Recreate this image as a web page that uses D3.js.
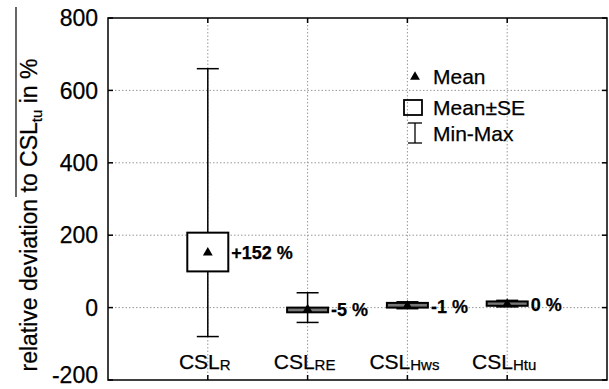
<!DOCTYPE html>
<html><head><meta charset="utf-8">
<script src="https://cdn.jsdelivr.net/npm/d3@7"></script>
<style>body{margin:0;background:#fff}svg{display:block;font-family:"Liberation Sans",Arial,sans-serif}text{fill:#000;stroke:#000;stroke-width:0.25px}</style>
</head><body><svg id="c" width="609" height="389"></svg>
<script>
const categories = ["R","RE","Hws","Htu"];
const minVals  = [-80, -41, -3, 2];
const maxVals  = [660, 41, 16, 20];
const seLow    = [100, -13, 0, 5];
const seHigh   = [207, 0, 13, 17];
const means    = [152, -5, 5, 10];
const labels   = ["+152 %","-5 %","-1 %","0 %"];
const yTicks   = [-200, 0, 200, 400, 600, 800];

const svg = d3.select("#c");
const L=108, R=607, T=18, B=380;
const x = d3.scaleLinear().domain([0,5]).range([L,R]);
const y = d3.scaleLinear().domain([-200,800]).range([B,T]);

// artifact line at left
svg.append("line").attr("x1",16).attr("x2",16).attr("y1",7).attr("y2",197).attr("stroke","#000").attr("stroke-width",1.2);

// grid
const g = svg.append("g");
yTicks.filter(v=>v>-200&&v<800).forEach(v=>{
  g.append("line").attr("x1",L).attr("x2",R).attr("y1",y(v)).attr("y2",y(v))
   .attr("stroke","#999").attr("stroke-dasharray","1.5,2").attr("stroke-width",1);
});
categories.forEach((c,i)=>{
  g.append("line").attr("x1",x(i+1)).attr("x2",x(i+1)).attr("y1",T).attr("y2",B)
   .attr("stroke","#999").attr("stroke-dasharray","1.5,2").attr("stroke-width",1);
});

// frame
svg.append("rect").attr("x",L).attr("y",T).attr("width",R-L).attr("height",B-T)
  .attr("fill","none").attr("stroke","#000").attr("stroke-width",1.5);

// ticks
categories.forEach((c,i)=>{
  const xx=x(i+1);
  svg.append("line").attr("x1",xx).attr("x2",xx).attr("y1",T).attr("y2",T+5).attr("stroke","#000").attr("stroke-width",1.5);
  svg.append("line").attr("x1",xx).attr("x2",xx).attr("y1",B).attr("y2",B-5).attr("stroke","#000").attr("stroke-width",1.5);
});
yTicks.forEach(v=>{
  svg.append("line").attr("x1",L).attr("x2",L+5).attr("y1",y(v)).attr("y2",y(v)).attr("stroke","#000").attr("stroke-width",1.5);
  svg.append("line").attr("x1",R).attr("x2",R-5).attr("y1",y(v)).attr("y2",y(v)).attr("stroke","#000").attr("stroke-width",1.5);
  svg.append("text").attr("x",98).attr("y",y(v)).attr("dy",v===-200?"0.12em":"0.36em")
    .attr("text-anchor","end").attr("font-size",23).text(v);
});

// y label
const yl = svg.append("text").attr("transform","translate(37,215) rotate(-90)")
  .attr("text-anchor","middle").attr("font-size",23);
yl.append("tspan").text("relative deviation to CSL");
yl.append("tspan").attr("font-size",15).attr("dy",5).text("tu");
yl.append("tspan").attr("dy",-5).text(" in %");

// category labels
categories.forEach((c,i)=>{
  const t = svg.append("text").attr("x",x(i+1)-3).attr("y",369).attr("text-anchor","middle")
    .attr("font-size",21);
  t.append("tspan").text("CSL");
  t.append("tspan").attr("font-size",15).attr("dy",1).text(c);
});

// boxes
const bw=41, cw=22;
categories.forEach((c,i)=>{
  const xx=x(i+1);
  svg.append("line").attr("x1",xx).attr("x2",xx).attr("y1",y(maxVals[i])).attr("y2",y(minVals[i])).attr("stroke","#000").attr("stroke-width",1.5);
  [minVals[i],maxVals[i]].forEach(v=>svg.append("line").attr("x1",xx-cw/2).attr("x2",xx+cw/2).attr("y1",y(v)).attr("y2",y(v)).attr("stroke","#000").attr("stroke-width",1.5));
  svg.append("rect").attr("x",xx-bw/2).attr("y",y(seHigh[i])).attr("width",bw).attr("height",y(seLow[i])-y(seHigh[i]))
    .attr("fill", i===0?"#fff":"#777").attr("stroke","#000").attr("stroke-width",2);
  svg.append("path").attr("d",d3.symbol(d3.symbolTriangle,42)()).attr("transform",`translate(${xx},${y(means[i])})`).attr("fill","#000");
  svg.append("text").attr("x",xx+bw/2+3).attr("y",y(means[i])).attr("dy","0.38em")
    .attr("font-size",18).attr("font-weight","bold").text(labels[i]);
});

// legend
svg.append("path").attr("d",d3.symbol(d3.symbolTriangle,42)()).attr("transform","translate(415,77)").attr("fill","#000");
svg.append("text").attr("x",433).attr("y",84).attr("font-size",21).text("Mean");
svg.append("rect").attr("x",404).attr("y",100).attr("width",18).attr("height",15).attr("fill","none").attr("stroke","#000").attr("stroke-width",1.8);
svg.append("text").attr("x",433).attr("y",115).attr("font-size",21).text("Mean±SE");
svg.append("line").attr("x1",415).attr("x2",415).attr("y1",123).attr("y2",143).attr("stroke","#000").attr("stroke-width",1.3);
svg.append("line").attr("x1",408).attr("x2",422).attr("y1",123).attr("y2",123).attr("stroke","#000").attr("stroke-width",1.3);
svg.append("line").attr("x1",408).attr("x2",422).attr("y1",143).attr("y2",143).attr("stroke","#000").attr("stroke-width",1.3);
svg.append("text").attr("x",433).attr("y",141).attr("font-size",21).text("Min-Max");
</script></body></html>
